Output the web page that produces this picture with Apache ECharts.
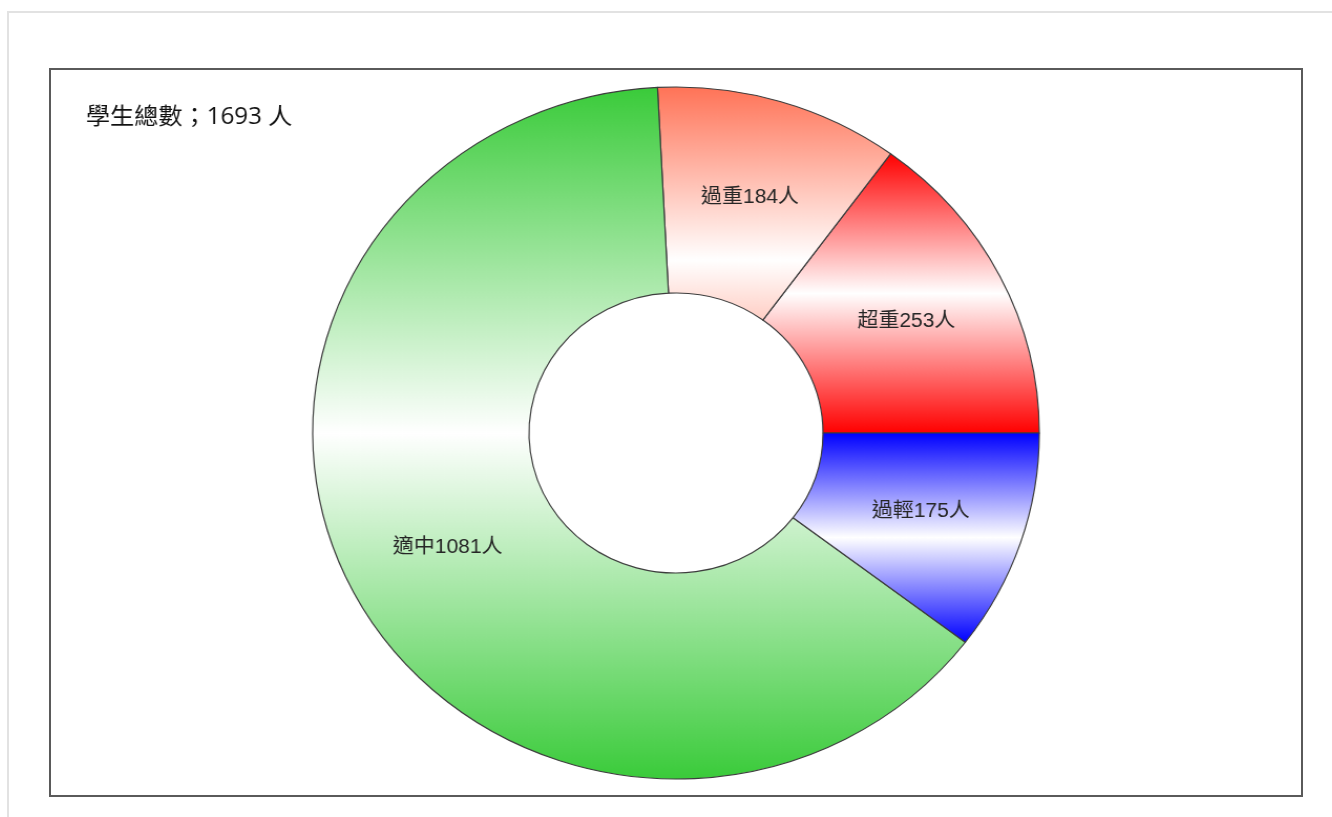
<!DOCTYPE html>
<html>
<head>
<meta charset="utf-8">
<title>學生體位分布</title>
<script src="https://cdn.jsdelivr.net/npm/echarts@6/dist/echarts.min.js"></script>
<style>
  html, body { margin: 0; padding: 0; background: #fff; overflow: hidden; }
  #page { position: relative; width: 1332px; height: 817px; }
  .frame-top { position: absolute; left: 8px; top: 11px; width: 1324px; height: 0; border-top: 2px solid #e2e2e2; }
  .frame-left { position: absolute; left: 7px; top: 11px; width: 0; height: 806px; border-left: 2px solid #e2e2e2; }
  .panel { position: absolute; left: 49px; top: 68px; width: 1250px; height: 725px; border: 2px solid #5a5a5a; }
  /* the ring is drawn slightly wider than tall */
  #chart { position: absolute; left: 0; top: 0; width: 1332px; height: 817px;
           transform-origin: 676px 433px; transform: scaleX(1.05); }
</style>
</head>
<body>
<div id="page">
  <div class="frame-top"></div>
  <div class="frame-left"></div>
  <div class="panel"></div>
  <div id="chart"></div>
</div>
<script>
// body-weight groups and head counts
const categories = ['超重', '過重', '適中', '過輕'];
const counts = [253, 184, 1081, 175];
const sliceColors = ['#FF0000', '#FF7357', '#3ACB3A', '#0000FF'];
const totalCaption = '學生總數';
const unitText = '人';

const CX = 676, CY = 433, R_IN = 140, R_OUT = 346;
const total = counts.reduce((a, b) => a + b, 0);

// vertical extent of a whole wedge (centre included), angles counter-clockwise from east
function wedgeExtent(a0, a1) {
  const ys = [CY, CY - R_OUT * Math.sin(a0 * Math.PI / 180), CY - R_OUT * Math.sin(a1 * Math.PI / 180)];
  if (a0 <= 90 && a1 >= 90) ys.push(CY - R_OUT);
  if (a0 <= 270 && a1 >= 270) ys.push(CY + R_OUT);
  return [Math.min(...ys), Math.max(...ys)];
}

// colour -> white -> colour band across each wedge
let acc = 0;
const pieData = categories.map((name, i) => {
  const a0 = acc / total * 360;
  acc += counts[i];
  const a1 = acc / total * 360;
  const [y0, y1] = wedgeExtent(a0, a1);
  return {
    name: name,
    value: counts[i],
    itemStyle: {
      color: {
        type: 'linear', global: true,
        x: 0, y: y0, x2: 0, y2: y1,
        colorStops: [
          { offset: 0, color: sliceColors[i] },
          { offset: 0.5, color: '#ffffff' },
          { offset: 1, color: sliceColors[i] }
        ]
      }
    }
  };
});

const chart = echarts.init(document.getElementById('chart'), null, { renderer: 'canvas' });
chart.setOption({
  animation: false,
  title: {
    text: totalCaption + '；' + total + ' ' + unitText,
    left: 114,
    top: 106,
    padding: 0,
    textStyle: {
      fontSize: 23,
      fontWeight: 'normal',
      color: '#111',
      fontFamily: '"Open Sans", "Noto Sans CJK TC", sans-serif'
    }
  },
  series: [{
    type: 'pie',
    center: [CX, CY],
    radius: [R_IN, R_OUT],
    startAngle: 0,
    clockwise: false,
    avoidLabelOverlap: false,
    emphasis: { disabled: true },
    itemStyle: { borderColor: '#3d3d3d', borderWidth: 1.2 },
    label: {
      show: true,
      position: 'inside',
      formatter: '{b}{c}' + unitText,
      fontSize: 20,
      color: '#262626',
      fontFamily: '"Liberation Sans", "Noto Sans CJK TC", sans-serif'
    },
    labelLine: { show: false },
    data: pieData
  }]
});
</script>
</body>
</html>
